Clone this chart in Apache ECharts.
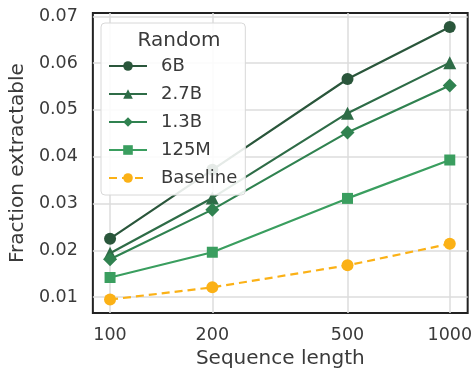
<!DOCTYPE html>
<html lang="en">
<head>
    <meta charset="UTF-8">
    <title>Fraction extractable</title>
    <style>
        * { margin: 0; }
        body { background: #fff; }
        #main { width: 475px; height: 374px; }
    </style>
    <script src="https://cdn.jsdelivr.net/npm/echarts@6/dist/echarts.min.js"></script>
</head>
<body>
<div id="main"></div>
<script>
    var seqLengths = [100, 200, 500, 1000];
    var xTicks = [100, 200, 500, 1000];
    var yTicks = [0.01, 0.02, 0.03, 0.04, 0.05, 0.06, 0.07];

    var names = ['6B', '2.7B', '1.3B', '125M', 'Baseline'];
    var vals6B = [0.0225, 0.0372, 0.0566, 0.0677];
    var vals27B = [0.0194, 0.0312, 0.0493, 0.0601];
    var vals13B = [0.0181, 0.0287, 0.0452, 0.0552];
    var vals125M = [0.0142, 0.0196, 0.0311, 0.0393];
    var valsBase = [0.0095, 0.0121, 0.0168, 0.0214];

    var colors = ['#2a563b', '#2e6c47', '#308250', '#3a9e5f', '#fbb116'];
    var symbols = ['circle', 'triangle', 'diamond', 'rect', 'circle'];
    var symbolSizes = [12, 13, 14, 11, 12];
    var allVals = [vals6B, vals27B, vals13B, vals125M, valsBase];

    var textColor = '#3a3a3a';
    var font = 'DejaVu Sans';

    var series = [];
    for (var i = 0; i < names.length; i++) {
        var pts = [];
        for (var j = 0; j < seqLengths.length; j++) {
            pts.push([seqLengths[j], allVals[i][j]]);
        }
        series.push({
            name: names[i],
            type: 'line',
            data: pts,
            symbol: symbols[i],
            symbolSize: symbolSizes[i],
            color: colors[i],
            lineStyle: {width: 2.2, color: colors[i], type: i === 4 ? [8, 5] : 'solid'},
            itemStyle: {color: colors[i]},
            animation: false
        });
    }

    var myChart = echarts.init(document.getElementById('main'));
    var option = {
        textStyle: {fontFamily: font},
        title: {
            text: 'Random',
            left: 174,
            textAlign: 'center',
            top: 26,
            textStyle: {fontFamily: font, fontSize: 20, fontWeight: 'normal', color: textColor},
            z: 20
        },
        legend: {
            data: names,
            orient: 'vertical',
            left: 101,
            top: 23,
            padding: [34, 8, 8, 7],
            itemGap: 10,
            itemWidth: 38,
            itemHeight: 12,
            backgroundColor: 'rgba(255,255,255,0.88)',
            borderColor: '#d8d8d8',
            borderWidth: 1,
            borderRadius: 4,
            textStyle: {fontFamily: font, fontSize: 18, color: textColor, padding: [0, 0, 0, 9]},
            z: 10
        },
        grid: {
            left: 92,
            right: 6,
            top: 13,
            bottom: 56,
            show: true,
            borderColor: '#222',
            borderWidth: 2,
            containLabel: false
        },
        xAxis: {
            type: 'log',
            min: 89,
            max: 1129,
            name: 'Sequence length',
            nameLocation: 'middle',
            nameGap: 35,
            nameTextStyle: {fontFamily: font, fontSize: 20, color: textColor},
            axisLine: {show: false},
            axisTick: {show: false, customValues: xTicks},
            minorTick: {show: false},
            minorSplitLine: {show: false},
            axisLabel: {
                customValues: xTicks,
                fontFamily: font,
                fontSize: 17.5,
                color: textColor,
                margin: 13,
                formatter: function (v) { return String(Math.round(v)); }
            },
            splitLine: {show: true, lineStyle: {color: '#dcdcdc', width: 1.5}}
        },
        yAxis: {
            type: 'value',
            min: 0.0066,
            max: 0.0707,
            name: 'Fraction extractable',
            nameLocation: 'middle',
            nameGap: 61,
            nameTextStyle: {fontFamily: font, fontSize: 20, color: textColor},
            axisLine: {show: false},
            axisTick: {show: false, customValues: yTicks},
            axisLabel: {
                customValues: yTicks,
                fontFamily: font,
                fontSize: 17.5,
                color: textColor,
                margin: 15,
                formatter: function (v) { return v.toFixed(2); }
            },
            splitLine: {show: true, lineStyle: {color: '#dcdcdc', width: 1.5}}
        },
        series: series
    };
    myChart.setOption(option);
</script>
</body>
</html>
